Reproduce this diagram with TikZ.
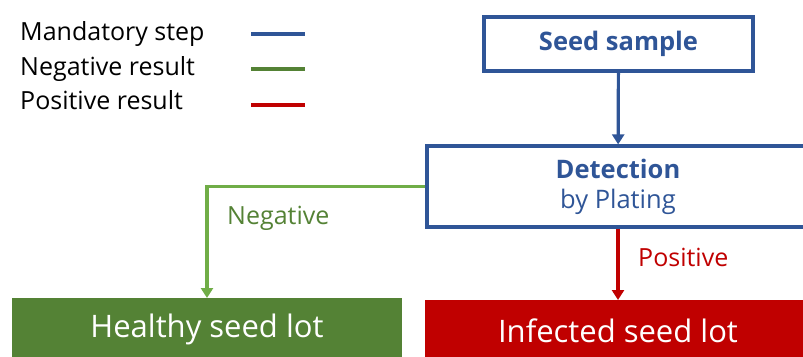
\documentclass[tikz,border=0pt]{standalone}
\usepackage{fontspec}
\setmainfont{Open Sans}
\usetikzlibrary{arrows.meta}
\definecolor{mandblue}{HTML}{2F5597}
\definecolor{neggreen}{HTML}{548235}
\definecolor{negline}{HTML}{70AD47}
\definecolor{posred}{HTML}{C00000}
\tikzset{
  stepbox/.style={draw=mandblue, line width=3.2pt, align=center, text=mandblue, inner sep=0pt},
  lotbox/.style={inner sep=0pt, text=white, font=\fontsize{31}{36}\selectfont},
  flow/.style={line width=3.2pt, -{Triangle[width=12pt,length=10pt]}},
  legtext/.style={anchor=base west, inner sep=0pt, font=\fontsize{25}{30}\selectfont}
}
\begin{document}
\begin{tikzpicture}[x=1pt, y=-1pt]
\useasboundingbox (0,0) rectangle (803,356);
% legend
\node[legtext] (lm) at (20,40) {Mandatory step};
\node[legtext] (ln) at (20,75) {Negative result};
\node[legtext] (lp) at (20,109) {Positive result};
\draw[mandblue, line width=3.5pt] (251,34) -- (305,34);
\draw[neggreen, line width=3.5pt] (251,69) -- (305,69);
\draw[posred, line width=3.5pt] (251,105) -- (305,105);
% boxes
\node[stepbox, minimum width=269pt, minimum height=54pt, font=\bfseries\fontsize{25.5}{30}\selectfont] (seed) at (618.5,44) {Seed sample};
\node[stepbox, minimum width=382pt, minimum height=81pt, font=\fontsize{25.5}{30}\selectfont] (det) at (618,186.5) {\textbf{Detection}\\by Plating};
\node[lotbox, fill=neggreen, minimum width=390pt, minimum height=62pt, anchor=north] (healthy) at (207,298) {Healthy seed lot};
\node[lotbox, fill=posred, minimum width=386pt, minimum height=62pt, anchor=north] (infected) at (618,300) {Infected seed lot};
% connectors
\draw[flow, mandblue] (seed) -- (det);
\draw[flow, negline] (det.west) -| (healthy.north);
\draw[flow, posred] (det) -- (infected);
\node[anchor=west, inner sep=0pt, text=neggreen, font=\fontsize{25}{30}\selectfont] (neglab) at (227,218) {Negative};
\node[anchor=west, inner sep=0pt, text=posred, font=\fontsize{25}{30}\selectfont] (poslab) at (638,257) {Positive};
\end{tikzpicture}
\end{document}
